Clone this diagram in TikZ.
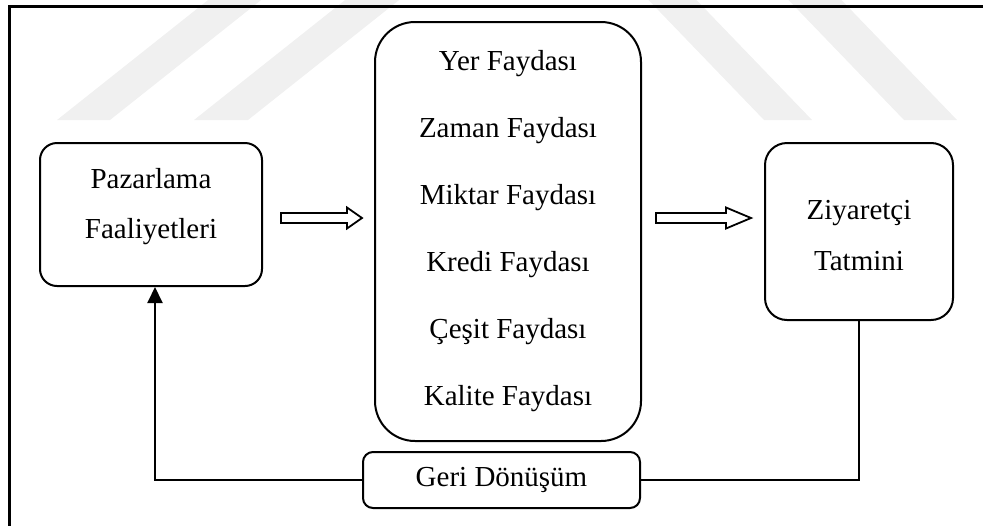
\documentclass[tikz,border=0pt]{standalone}
\usepackage{fontspec}
\setmainfont{Liberation Serif}
\usetikzlibrary{positioning, calc, arrows.meta}

\tikzset{
  kutu/.style={draw=black, line width=1pt, align=center, inner sep=0pt},
  cizgi/.style={draw=black, line width=1pt},
  kalin/.style={draw=black, line width=0.9pt, fill=white, line join=miter},
  filigran/.style={fill=black!6, draw=none},
}

% kalin ok: baslangic, bitis, uc boyu
\newcommand{\kalinok}[3]{%
  \draw[kalin] ($(#1)+(0,-5)$) -- ($(#2)+(-#3,-5)$) -- ($(#2)+(-#3,-10.5)$) -- (#2)
    -- ($(#2)+(-#3,10.5)$) -- ($(#2)+(-#3,5)$) -- ($(#1)+(0,5)$) -- cycle;}

\begin{document}
\begin{tikzpicture}[x=0.5pt, y=-0.5pt, font=\fontsize{14.5}{17}\selectfont]

\useasboundingbox (0,0) rectangle (983,525);
\clip (0,0) rectangle (983,525);

% filigran
\foreach \a/\b in {57/110, 194/248}
  \fill[filigran] (\a,120) -- (\b,120) -- (\b+170,-15) -- (\a+170,-15) -- cycle;
\foreach \a/\b in {764/812, 904/957}
  \fill[filigran] (\a,120) -- (\b,120) -- (\b-130,-15) -- (\a-130,-15) -- cycle;

% cerceve
\draw[line width=1.5pt] (9,6) rectangle (1010,560);

\node[kutu, rounded corners=8.5pt, minimum width=111pt, minimum height=71.5pt,
  label={[align=center, yshift=4pt]center:{Pazarlama\\[8pt]Faaliyetleri}}] (paz) at (151,214.5) {};
\node[kutu, rounded corners=20pt, minimum width=133pt, minimum height=209.5pt] (fayda) at (508,231.5)
  {Yer Faydası\\[16.5pt]Zaman Faydası\\[16.5pt]Miktar Faydası\\[16.5pt]Kredi Faydası\\[16.5pt]Çeşit Faydası\\[16.5pt]Kalite Faydası};
\node[kutu, rounded corners=11pt, minimum width=94pt, minimum height=88.5pt,
  label={[align=center, yshift=-2pt]center:{Ziyaretçi\\[8.5pt]Tatmini}}] (ziy) at (859,231.5) {};
\node[kutu, rounded corners=5pt, minimum width=138.5pt, minimum height=28pt] (geri) at (501.5,480)
  {Geri Dönüşüm};

\coordinate (ok1s) at ($(paz.east)+(18,3.5)$);
\coordinate (ok1e) at ($(fayda.west)+(-12,-13.5)$);
\kalinok{ok1s}{ok1e}{15}
\coordinate (ok2s) at ($(fayda.east)+(14,-13.5)$);
\coordinate (ok2e) at ($(ziy.west)+(-13,-13.5)$);
\kalinok{ok2s}{ok2e}{25}

\draw[cizgi] (ziy.south) |- (geri.east);
\draw[cizgi, -{Triangle[length=8pt, width=7.5pt]}] (geri.west) -| ($(paz.south)+(4,0)$);

\end{tikzpicture}
\end{document}
